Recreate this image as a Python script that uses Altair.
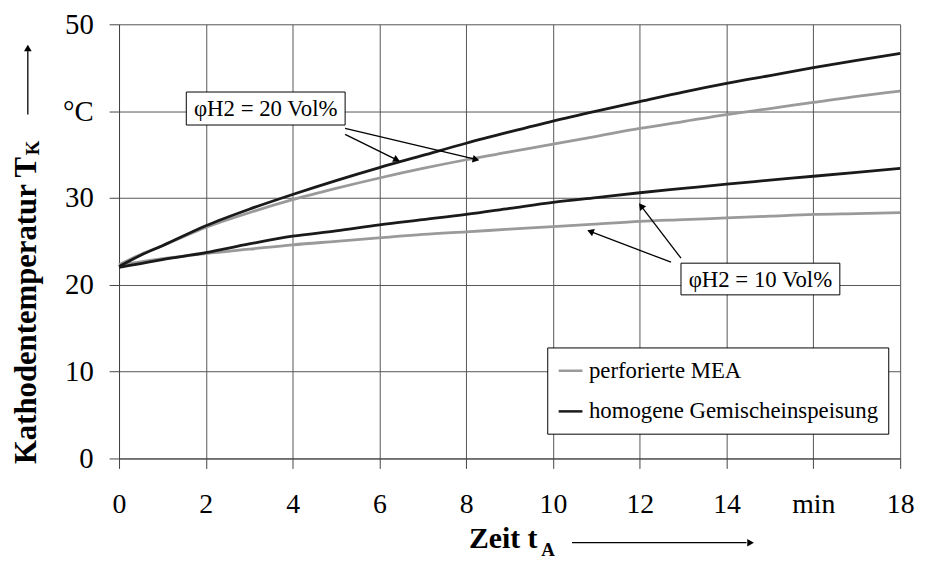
import math
import altair as alt
import pandas as pd

# ---------------- data ----------------
t = [0, 0.5, 1, 2, 3, 4, 5, 6, 7, 8, 9, 10, 11, 12, 13, 14, 15, 16, 17, 18]
homogen_20 = [22.1, 23.4, 24.5, 26.8, 28.7, 30.4, 32.0, 33.5, 34.9, 36.3, 37.6,
              38.85, 40.0, 41.1, 42.2, 43.2, 44.1, 45.0, 45.85, 46.65]
perf_20 = [22.3, 23.5, 24.5, 26.6, 28.3, 29.8, 31.1, 32.3, 33.4, 34.4, 35.3,
           36.2, 37.1, 38.0, 38.8, 39.6, 40.3, 41.0, 41.7, 42.3]
homogen_10 = [22.0, 22.45, 22.9, 23.7, 24.7, 25.6, 26.2, 26.9, 27.5, 28.1, 28.8,
              29.5, 30.05, 30.6, 31.1, 31.6, 32.05, 32.5, 32.95, 33.4]
perf_10 = [22.3, 22.65, 23.0, 23.6, 24.1, 24.6, 25.0, 25.4, 25.8, 26.1, 26.4,
           26.7, 27.0, 27.3, 27.5, 27.7, 27.9, 28.1, 28.2, 28.3]

series_names = ["perforierte MEA", "homogene Gemischeinspeisung"]
series_colors = ["#9a9a9a", "#1a1a1a"]

x_ticks = [0, 2, 4, 6, 8, 10, 12, 14, 16, 18]
y_ticks = [0, 10, 20, 30, 40, 50]

# annotation boxes
ann_labels = ["φH2 = 20 Vol%", "φH2 = 10 Vol%"]
ann_x = [1.55, 12.95]
ann_x2 = [5.21, 16.61]
ann_y = [38.4, 18.84]
ann_y2 = [42.2, 22.49]

# arrows (start -> tip)
arr_x0 = [5.21, 5.21, 12.72, 12.95]
arr_y0 = [38.0, 37.33, 22.6, 23.06]
arr_x1 = [8.29, 6.46, 10.80, 11.99]
arr_y1 = [34.36, 34.25, 26.26, 29.34]

# ---------------- layout ----------------
W, H = 788, 438
XMAX, YMAX = 18, 50
sx, sy = W / XMAX, H / YMAX
FONT = "Times New Roman, Liberation Serif, DejaVu Serif, serif"

rows = []
for name, s10, s20 in [(series_names[0], perf_10, perf_20),
                       (series_names[1], homogen_10, homogen_20)]:
    for conc, vals in [("10", s10), ("20", s20)]:
        for xi, yi in zip(t, vals):
            rows.append({"t": xi, "T": yi, "serie": name, "conc": conc})
df = pd.DataFrame(rows)

xs = alt.Scale(domain=[0, XMAX], nice=False, zero=False)
ys = alt.Scale(domain=[0, YMAX], nice=False, zero=False)

lines = alt.Chart(df).mark_line(strokeWidth=2.8, interpolate="monotone").encode(
    x=alt.X("t:Q", scale=xs, axis=alt.Axis(
        values=x_ticks, title=None, grid=True, gridColor="#555555", gridWidth=1,
        tickSize=10, tickColor="#444444", domainColor="#444444",
        labelFont=FONT, labelFontSize=28, labelColor="black", labelPadding=23,
        labelFlush=False, labelOverlap=False,
        labelExpr="datum.value == 16 ? 'min' : datum.label")),
    y=alt.Y("T:Q", scale=ys, axis=alt.Axis(
        values=y_ticks, title=None, grid=True, gridColor="#555555", gridWidth=1,
        tickSize=10, tickColor="#444444", domainColor="#444444",
        labelFont=FONT, labelFontSize=29, labelColor="black", labelPadding=16,
        labelFlush=False, labelOverlap=False,
        labelExpr="datum.value == 40 ? '°C' : datum.label")),
    color=alt.Color("serie:N", scale=alt.Scale(domain=series_names, range=series_colors),
                    sort=series_names,
                    legend=alt.Legend(
                        title=None, orient="none", legendX=432, legendY=326,
                        direction="vertical", symbolType="stroke", symbolSize=576,
                        symbolStrokeWidth=2.5, labelFont=FONT, labelFontSize=23,
                        labelColor="black", rowPadding=15, padding=10,
                        strokeColor="black", fillColor="white", labelLimit=0,
                        labelOffset=5)),
    detail="conc:N",
)

# annotation boxes + text
ann = pd.DataFrame({"label": ann_labels, "x": ann_x, "x2": ann_x2, "y": ann_y, "y2": ann_y2})
ann["xc"] = (ann["x"] + ann["x2"]) / 2
ann["yc"] = (ann["y"] + ann["y2"]) / 2
boxes = alt.Chart(ann).mark_rect(fill="white", stroke="black", strokeWidth=1).encode(
    x=alt.X("x:Q", scale=xs), x2="x2", y=alt.Y("y:Q", scale=ys), y2="y2")
box_text = alt.Chart(ann).mark_text(font=FONT, fontSize=23, color="black",
                                    align="center", baseline="middle", dy=1).encode(
    x=alt.X("xc:Q", scale=xs), y=alt.Y("yc:Q", scale=ys), text="label:N")

# arrows
arows = []
for x0, y0, x1, y1 in zip(arr_x0, arr_y0, arr_x1, arr_y1):
    dxp = (x1 - x0) * sx
    dyp = -(y1 - y0) * sy
    L = math.hypot(dxp, dyp)
    ux, uy = dxp / L, dyp / L
    ang = math.degrees(math.atan2(ux, -uy)) % 360
    back = 4.0
    arows.append({
        "x0": x0, "y0": y0,
        "xe": x1 - ux * back / sx, "ye": y1 + uy * back / sy,
        "xh": x1 - ux * back / sx, "yh": y1 + uy * back / sy,
        "ang": ang})
adf = pd.DataFrame(arows)
arrow_lines = alt.Chart(adf).mark_rule(color="black", strokeWidth=1.3).encode(
    x=alt.X("x0:Q", scale=xs), y=alt.Y("y0:Q", scale=ys), x2="xe", y2="ye")
arrow_heads = alt.Chart(adf).mark_point(shape="triangle", filled=True, size=60,
                                        color="black", opacity=1).encode(
    x=alt.X("xh:Q", scale=xs), y=alt.Y("yh:Q", scale=ys),
    angle=alt.Angle("ang:Q", scale=None))

# axis titles (with subscripts) and their arrows
one = pd.DataFrame({"k": [0]})
ytitle = alt.Chart(one).mark_text(font=FONT, fontSize=31, fontWeight="bold", color="black",
                                  angle=270, align="right", baseline="alphabetic",
                                  text="Kathodentemperatur T").encode(
    x=alt.value(-84), y=alt.value(134))
ysub = alt.Chart(one).mark_text(font=FONT, fontSize=19, fontWeight="bold", color="black",
                                angle=270, align="left", baseline="alphabetic",
                                text="K").encode(
    x=alt.value(-81), y=alt.value(132))
yarrow = alt.Chart(one).mark_rule(color="black", strokeWidth=1.3).encode(
    x=alt.value(-92), y=alt.value(91), y2=alt.value(27))
yhead = alt.Chart(one).mark_point(shape="triangle", filled=True, size=60, color="black",
                                  opacity=1).encode(
    x=alt.value(-92), y=alt.value(25), angle=alt.value(0))

xtitle = alt.Chart(one).mark_text(font=FONT, fontSize=30, fontWeight="bold", color="black",
                                  align="left", baseline="alphabetic",
                                  text="Zeit t").encode(
    x=alt.value(353), y=alt.value(528))
xsub = alt.Chart(one).mark_text(font=FONT, fontSize=19, fontWeight="bold", color="black",
                                align="left", baseline="alphabetic", text="A").encode(
    x=alt.value(426), y=alt.value(536))
xarrow = alt.Chart(one).mark_rule(color="black", strokeWidth=1.3).encode(
    x=alt.value(457), x2=alt.value(633), y=alt.value(523))
xhead = alt.Chart(one).mark_point(shape="triangle", filled=True, size=60, color="black",
                                  opacity=1).encode(
    x=alt.value(636), y=alt.value(523), angle=alt.value(90))

chart = alt.layer(
    lines, arrow_lines, arrow_heads, boxes, box_text,
    ytitle, ysub, yarrow, yhead, xtitle, xsub, xarrow, xhead
).properties(
    width=W, height=H,
    autosize=alt.AutoSizeParams(type="none"),
    padding={"left": 112, "top": 14, "right": 17, "bottom": 101},
    background="white",
).configure_view(stroke=None)

chart.save("out.html", embed_options={"renderer": "svg", "actions": False})
